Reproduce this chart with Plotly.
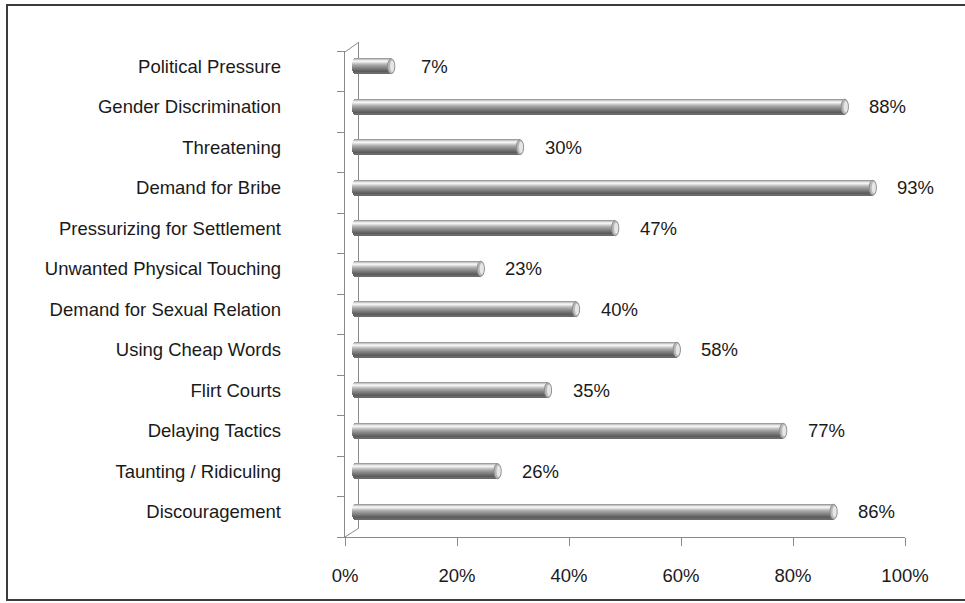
import math
import plotly.graph_objects as go

# Survey data: share of respondents reporting each form of harassment
categories = [
    "Political Pressure",
    "Gender Discrimination",
    "Threatening",
    "Demand for Bribe",
    "Pressurizing for Settlement",
    "Unwanted Physical Touching",
    "Demand for Sexual Relation",
    "Using Cheap Words",
    "Flirt Courts",
    "Delaying Tactics",
    "Taunting / Ridiculing",
    "Discouragement",
]
values = [7, 88, 30, 93, 47, 23, 40, 58, 35, 77, 26, 86]
x_ticks = [0, 20, 40, 60, 80, 100]
x_tick_text = [f"{t}%" for t in x_ticks]

# ---- page geometry (pixels) ----
W, H = 965, 603
PL, PR, PT, PB = 345, 919, 42, 537          # plot area edges
PW, PH = PR - PL, PB - PT
FRONT_W = 560                               # front axis length for 0..100 %
DEPTH_X, DEPTH_Y = 14, 9                    # depth of the 3-D box
MID_X, MID_Y = 7, 5                         # bars sit half way into the box
FONT = "Liberation Sans, Arial, sans-serif"
FS = 18.5
TXT = "#1a1a1a"
AXC = "#8a8a8a"

px_per_pct = FRONT_W / 100.0
n_cat = len(categories)
pos = list(range(n_cat))

fig = go.Figure()

# empty traces so that the front axes and the back wall edge get drawn
fig.add_trace(go.Scatter(x=[None], y=[None], xaxis="x", yaxis="y",
                         mode="markers", hoverinfo="skip", showlegend=False))
fig.add_trace(go.Scatter(x=[None], y=[None], xaxis="x2", yaxis="y2",
                         mode="markers", hoverinfo="skip", showlegend=False))

# ---- cylinder bars: stacked horizontal strips give the round shading ----
shade = ["#9d9d9d", "#c8c8c8", "#e9e9e9", "#f3f3f3", "#dedede", "#c6c6c6",
         "#b2b2b2", "#a2a2a2", "#959595", "#888888", "#7c7c7c", "#707070",
         "#646464", "#5c5c5c", "#6a6a6a"]
n_strip = len(shade)
bar_h_px = 15.0
cat_px = (PH - DEPTH_Y) / n_cat
thick = bar_h_px / cat_px                    # bar thickness in category units
r_left = 3.0 / px_per_pct                    # rounding of the left end, in %

for k, col in enumerate(shade):
    s = -1 + (2 * k + 1) / n_strip           # relative height inside the tube
    b = r_left * (1 - math.sqrt(max(0.0, 1 - s * s)))
    fig.add_trace(go.Bar(
        x=[v - b for v in values],
        y=pos,
        base=b,
        orientation="h",
        width=thick / n_strip,
        offset=-thick / 2 + k * thick / n_strip,
        marker=dict(color=col, line=dict(width=0)),
        xaxis="x3", yaxis="y3",
        hoverinfo="skip", showlegend=False,
    ))

# ---- end caps of the cylinders ----
cap_r = 3.6 / px_per_pct
shapes = []
for i, v in enumerate(values):
    shapes.append(dict(type="circle", xref="x3", yref="y3",
                       x0=v - cap_r, x1=v + cap_r,
                       y0=i - thick / 2, y1=i + thick / 2,
                       fillcolor="#b8b8b8", line=dict(color="#8c8c8c", width=1),
                       layer="above"))
    shapes.append(dict(type="circle", xref="x3", yref="y3",
                       x0=v - cap_r * 0.3, x1=v + cap_r * 0.85,
                       y0=i - thick * 0.38, y1=i + thick * 0.38,
                       fillcolor="#e6e6e6", line=dict(width=0),
                       layer="above"))

# ---- value labels ----
annotations = []
for i, v in enumerate(values):
    annotations.append(dict(x=v, y=i, xref="x3", yref="y3",
                            text=f"{v}%", showarrow=False,
                            xanchor="center", yanchor="middle", xshift=43,
                            font=dict(family=FONT, size=FS, color=TXT)))


def to_paper(px, py):
    return (px - PL) / PW, (PB - py) / PH


# ---- depth edges of the 3-D box ----
for (ax0, ay0), (ax1, ay1) in [((PL, PT + DEPTH_Y + 1), (PL + DEPTH_X, PT)),
                               ((PL, PB), (PL + DEPTH_X, PB - DEPTH_Y))]:
    x0, y0 = to_paper(ax0, ay0)
    x1, y1 = to_paper(ax1, ay1)
    shapes.append(dict(type="line", xref="paper", yref="paper",
                       x0=x0, y0=y0, x1=x1, y1=y1,
                       line=dict(color=AXC, width=1)))

# ---- outer chart frame ----
fx0, fy0 = to_paper(7, 600)
fx1, fy1 = to_paper(975, 5)
shapes.append(dict(type="rect", xref="paper", yref="paper",
                   x0=fx0, y0=fy0, x1=fx1, y1=fy1,
                   line=dict(color="#3c3c3c", width=2), fillcolor="rgba(0,0,0,0)"))

y_range = [n_cat - 0.5, -0.5]

fig.update_layout(
    width=W, height=H,
    margin=dict(l=PL, r=W - PR, t=PT, b=H - PB, pad=0),
    paper_bgcolor="white", plot_bgcolor="rgba(0,0,0,0)",
    barmode="overlay", bargap=0,
    showlegend=False,
    font=dict(family=FONT, size=FS, color=TXT),
    # front (visible) value axis
    xaxis=dict(domain=[0, FRONT_W / PW], range=[0, 100], anchor="y",
               tickmode="array", tickvals=x_ticks, ticktext=x_tick_text,
               ticks="outside", ticklen=8,
               tickcolor=AXC, showline=True, linecolor=AXC, linewidth=1,
               showgrid=False, zeroline=False, ticklabelstandoff=14,
               tickfont=dict(family=FONT, size=FS, color=TXT)),
    # front category axis: tick marks between categories
    yaxis=dict(domain=[0, (PH - DEPTH_Y) / PH], range=y_range, anchor="x",
               tickmode="array", tickvals=[i - 0.5 for i in range(n_cat + 1)],
               showticklabels=False, ticks="outside", ticklen=7, tickcolor=AXC,
               showline=True, linecolor=AXC, linewidth=1,
               showgrid=False, zeroline=False),
    # back wall edge
    xaxis2=dict(domain=[DEPTH_X / PW, 1], range=[0, 100],
                anchor="y2", visible=False),
    yaxis2=dict(domain=[DEPTH_Y / PH, 1], range=y_range,
                anchor="x2", side="left",
                showticklabels=False, ticks="", showline=True,
                linecolor=AXC, linewidth=1, showgrid=False, zeroline=False),
    # axes the bars are drawn on (half way into the box)
    xaxis3=dict(domain=[MID_X / PW, (MID_X + FRONT_W) / PW], range=[0, 100],
                anchor="y3", visible=False),
    yaxis3=dict(domain=[MID_Y / PH, (PH - DEPTH_Y + MID_Y) / PH], range=y_range,
                anchor="x3", side="left",
                tickmode="array", tickvals=pos, ticktext=categories, ticks="",
                showline=False, showgrid=False, zeroline=False,
                ticklabelstandoff=70,
                tickfont=dict(family=FONT, size=FS, color=TXT)),
    shapes=shapes,
    annotations=annotations,
)

fig.write_html("out.html")
